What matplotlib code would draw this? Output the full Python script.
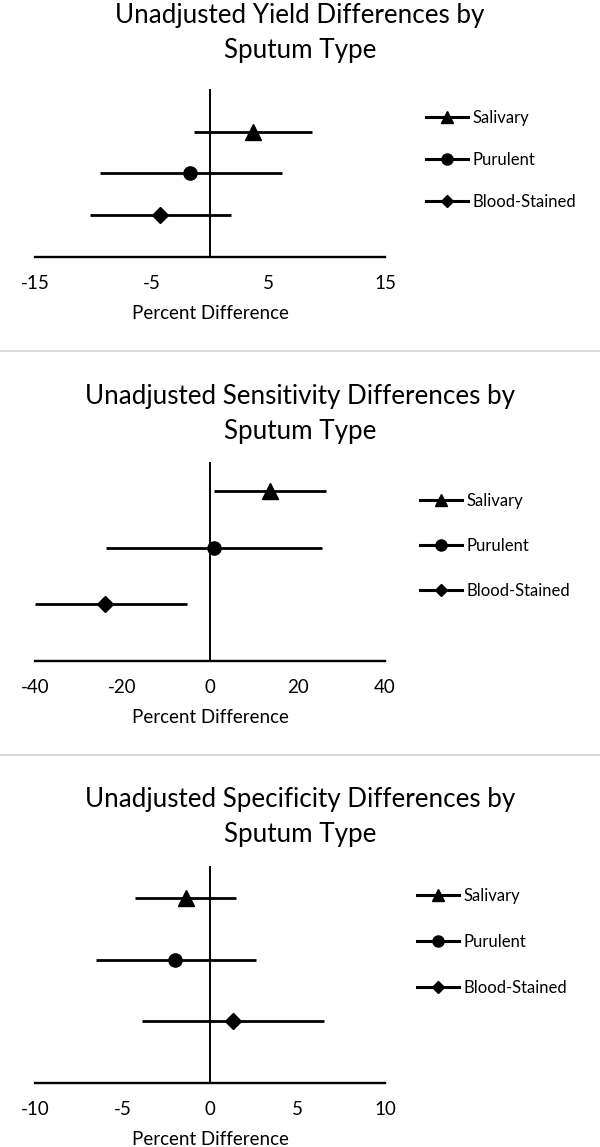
import numpy as np
import matplotlib.pyplot as plt
from matplotlib.lines import Line2D

plt.rcParams['font.family'] = ['Lato', 'DejaVu Sans']
plt.rcParams['axes.unicode_minus'] = False

# sputum types, top row first
types = ["Salivary", "Purulent", "Blood-Stained"]
markers = ["^", "o", "D"]
rows = [3, 2, 1]

# percent differences: estimate, lower, upper
yield_est = [3.7, -1.7, -4.3]
yield_lo = [-1.4, -9.4, -10.3]
yield_hi = [8.7, 6.2, 1.8]

sens_est = [13.7, 0.8, -24.0]
sens_lo = [0.8, -23.8, -40.0]
sens_hi = [26.4, 25.5, -5.3]

spec_est = [-1.4, -2.0, 1.3]
spec_lo = [-4.3, -6.5, -3.9]
spec_hi = [1.5, 2.6, 6.5]

titles = ["Unadjusted Yield Differences by\nSputum Type",
          "Unadjusted Sensitivity Differences by\nSputum Type",
          "Unadjusted Specificity Differences by\nSputum Type"]
xticks = [[-15, -5, 5, 15], [-40, -20, 0, 20, 40], [-10, -5, 0, 5, 10]]
xlims = [(-15, 15), (-40, 40), (-10, 10)]
ytops = [4.0, 3.5, 3.5]

W, H = 600, 1147
fig = plt.figure(figsize=(W / 100, H / 100), dpi=100)

def rect(l, t, r, b):
    return [l / W, 1 - b / H, (r - l) / W, (b - t) / H]

# pixel layout of each panel: plot box, title centre, legend anchor
boxes = [(35, 90, 385, 257), (35, 463, 385, 661), (35, 867, 385, 1083)]
title_y = [33, 414, 817]
legend_xy = [(426, 160), (420, 546), (417, 942)]
legend_gap = [1.55, 1.72, 1.82]
seps = [351, 755]

data = [(yield_est, yield_lo, yield_hi),
        (sens_est, sens_lo, sens_hi),
        (spec_est, spec_lo, spec_hi)]

for i in range(3):
    ax = fig.add_axes(rect(*boxes[i]))
    est, lo, hi = [np.array(a) for a in data[i]]
    for j in range(3):
        ax.errorbar(est[j], rows[j], xerr=[[est[j] - lo[j]], [hi[j] - est[j]]],
                    fmt=markers[j], color='black', ecolor='black',
                    elinewidth=2.0, capsize=0,
                    ms=[11.5, 9.5, 8][j], zorder=3, clip_on=False)
    ax.set_xlim(*xlims[i])
    ax.set_ylim(0, ytops[i])
    ax.set_xticks(xticks[i])
    ax.set_yticks([])
    ax.spines['top'].set_visible(False)
    ax.spines['right'].set_visible(False)
    ax.spines['left'].set_position(('data', 0))
    ax.spines['left'].set_linewidth(1.4)
    ax.spines['bottom'].set_linewidth(1.7)
    ax.tick_params(axis='x', length=0, pad=13, labelsize=13.5)
    ax.set_xlabel("Percent Difference", fontsize=13.5, labelpad=9)
    ax.patch.set_alpha(0)

    fig.text(0.5, 1 - title_y[i] / H, titles[i], ha='center', va='center',
             fontsize=18.7, linespacing=1.5)

    handles = [Line2D([], [], color='black', lw=2.2, marker=markers[k],
                      ms=[8, 8, 6][k]) for k in range(3)]
    lx, ly = legend_xy[i]
    ax.legend(handles, types, loc='center left',
              bbox_to_anchor=(lx / W, 1 - ly / H), bbox_transform=fig.transFigure,
              frameon=False, fontsize=12, borderpad=0, borderaxespad=0,
              handlelength=2.5, handletextpad=0.3, labelspacing=legend_gap[i])

for y in seps:
    fig.add_artist(Line2D([0, 1], [1 - y / H, 1 - y / H], color='#d9d9d9',
                          lw=1.5, transform=fig.transFigure))

fig.savefig("out.png", dpi=100)
